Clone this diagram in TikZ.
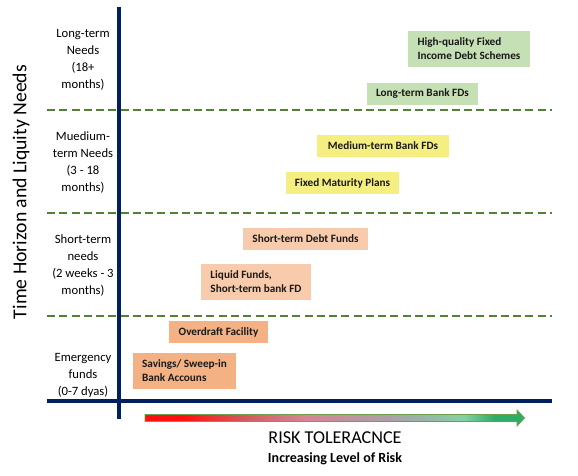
\documentclass[tikz,border=0pt]{standalone}
\usepackage{fontspec}
\setmainfont{Carlito}
\definecolor{axisblue}{HTML}{002060}
\definecolor{dashgreen}{HTML}{548235}
\definecolor{boxgreen}{HTML}{C5E0B4}
\definecolor{boxyellow}{HTML}{F5EF82}
\definecolor{boxpeach}{HTML}{F8CBAD}
\definecolor{boxorange}{HTML}{F4B183}
\definecolor{gA}{HTML}{FF1010}
\definecolor{gB}{HTML}{D45A5A}
\definecolor{gC}{HTML}{D88494}
\definecolor{gD}{HTML}{A8A2AA}
\definecolor{gE}{HTML}{86CFA6}
\definecolor{gF}{HTML}{2EAD66}
\definecolor{arrowborder}{HTML}{6E9E52}
\pgfdeclarehorizontalshading{riskshade}{100bp}{color(0bp)=(gA); color(25bp)=(gA); color(30bp)=(gA); color(38bp)=(gB); color(46bp)=(gC); color(58bp)=(gD); color(67bp)=(gE); color(71bp)=(gF); color(75bp)=(gF); color(100bp)=(gF)}
\tikzset{
  axisline/.style={axisblue, line width=2.4pt},
  sepline/.style={dashgreen, line width=1.5pt, dash pattern=on 6pt off 3.2pt},
  rowlabel/.style={align=center, inner sep=0pt, font=\fontsize{9.5}{12.75}\selectfont},
  optbox/.style={inner sep=0pt, align=left, font=\bfseries\fontsize{8.4}{10.5}\selectfont, text=black!90},
}
\begin{document}
\begin{tikzpicture}[x=0.75pt,y=-0.75pt]
\useasboundingbox (0,0) rectangle (578,475);
% coordinates
\coordinate (vtop) at (119,7);
\coordinate (vbot) at (119,419);
\coordinate (hl) at (47,401);
\coordinate (hr) at (552,401);
\coordinate (d1l) at (47,110); \coordinate (d1r) at (552,110);
\coordinate (d2l) at (47,213); \coordinate (d2r) at (552,213);
\coordinate (d3l) at (47,316); \coordinate (d3r) at (552,316);
% separators
\draw[sepline] (d1l) -- (d1r);
\draw[sepline] (d2l) -- (d2r);
\draw[sepline] (d3l) -- (d3r);
% axes
\draw[axisline] (vtop) -- (vbot);
\draw[axisline] (hl) -- (hr);
% row labels
\node[rowlabel] (lt) at (83,59.5) {Long-term\\Needs\\(18+\\months)};
\node[rowlabel] (mt) at (83,162.5) {Muedium-\\term Needs\\(3 - 18\\months)};
\node[rowlabel] (st) at (83,265.5) {Short-term\\needs\\(2 weeks - 3\\months)};
\node[rowlabel] (em) at (83,375) {Emergency\\funds\\(0-7 dyas)};
% y-axis label
\node[rotate=90, inner sep=0pt, font=\fontsize{14.8}{16}\selectfont] (ylab) at (21,192) {Time Horizon and Liquity Needs};
% boxes
\node[optbox, fill=boxgreen, minimum width=122*0.75pt, minimum height=36*0.75pt] (hq) at (469,49) {High-quality Fixed\\Income Debt Schemes};
\node[optbox, fill=boxgreen, minimum width=111*0.75pt, minimum height=22*0.75pt] (ltfd) at (422.5,94) {Long-term Bank FDs};
\node[optbox, fill=boxyellow, minimum width=132*0.75pt, minimum height=22*0.75pt] (mtfd) at (383,146) {Medium-term Bank FDs};
\node[optbox, fill=boxyellow, minimum width=113*0.75pt, minimum height=22*0.75pt] (fmp) at (342.5,183) {Fixed Maturity Plans};
\node[optbox, fill=boxpeach, minimum width=125*0.75pt, minimum height=22*0.75pt] (stdf) at (305.5,239) {Short-term Debt Funds};
\node[optbox, fill=boxpeach, minimum width=110*0.75pt, minimum height=36*0.75pt] (lf) at (256,282) {Liquid Funds,\\Short-term bank FD};
\node[optbox, fill=boxorange, minimum width=99*0.75pt, minimum height=22*0.75pt] (od) at (218.5,332) {Overdraft Facility};
\node[optbox, fill=boxorange, minimum width=103*0.75pt, minimum height=36*0.75pt] (sav) at (184.5,371) {Savings/ Sweep-in\\Bank Accouns};
% gradient arrow
\path[shading=riskshade, draw=arrowborder, line width=0.6pt]
  (145,414.5) -- (517,414.5) -- (517,410) -- (524.5,418) -- (517,426) -- (517,421.5) -- (145,421.5) -- cycle;
% x-axis labels
\node[inner sep=0pt, font=\fontsize{13.6}{16}\selectfont] (xlab) at (335,438) {RISK TOLERACNCE};
\node[inner sep=0pt, font=\bfseries\fontsize{10.5}{12}\selectfont] (xsub) at (335,459) {Increasing Level of Risk};
\end{tikzpicture}
\end{document}
